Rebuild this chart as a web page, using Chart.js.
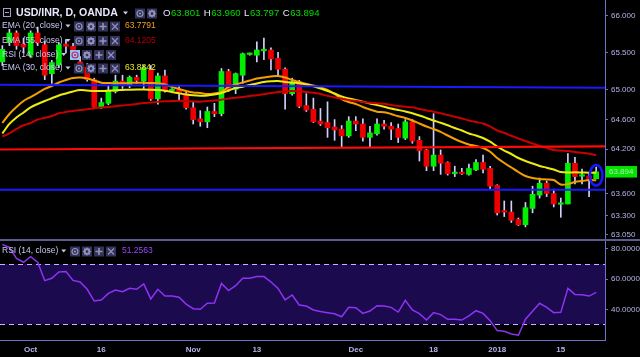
<!DOCTYPE html>
<html><head><meta charset="utf-8">
<script src="https://cdn.jsdelivr.net/npm/chart.js@4.4.0/dist/chart.umd.min.js"></script>
<style>
html,body{margin:0;padding:0;background:#000;width:640px;height:357px;overflow:hidden}
canvas{position:absolute;left:0}
#p{top:0}
#r{top:241px}
</style></head><body>
<canvas id="p" width="640" height="241"></canvas>
<canvas id="r" width="640" height="116"></canvas>
<script>
// ---- data (USD/INR daily, OANDA) ----
const opens = [65.38,65.64,65.77,65.62,65.47,65.77,65.61,65.22,65.34,65.62,
65.59,65.38,65.31,65.14,64.77,64.82,64.98,65.12,65.06,65.17,
65.12,65.27,64.88,65.19,64.99,65.00,64.95,64.76,64.61,64.57,
64.71,64.68,65.25,65.01,65.20,65.48,65.47,65.53,65.54,65.43,
65.28,64.95,65.11,64.79,64.74,64.58,64.56,64.50,64.47,64.38,
64.58,64.54,64.36,64.41,64.54,64.51,64.48,64.35,64.57,64.32,
64.19,63.97,64.12,64.02,63.87,63.875,63.86,63.92,64.02,63.94,
63.71,63.355,63.35,63.25,63.18,63.40,63.58,63.74,63.60,63.455,
63.46,64.01,63.835,63.84,63.801];
const highs = [65.60,65.82,65.80,65.70,65.80,65.85,65.66,65.40,65.64,65.68,
65.63,65.45,65.36,65.16,64.89,65.06,65.20,65.20,65.19,65.20,
65.33,65.33,65.23,65.27,65.02,65.05,64.97,64.84,64.72,64.77,
64.82,65.29,65.28,65.23,65.50,65.50,65.65,65.70,65.57,65.51,
65.30,65.16,65.13,64.95,64.89,64.75,64.84,64.60,64.52,64.64,
64.64,64.61,64.51,64.61,64.59,64.56,64.54,64.60,64.60,64.37,
64.20,64.68,64.19,64.03,63.97,63.94,64.00,64.06,64.12,63.97,
63.72,63.50,63.50,63.27,63.48,63.70,63.81,63.77,63.66,63.54,
64.14,64.09,63.93,63.87,63.960];
const lows = [65.33,65.60,65.55,65.50,65.44,65.60,65.14,65.09,65.30,65.50,
65.45,65.30,65.12,64.75,64.75,64.80,64.96,65.02,65.03,65.09,
65.02,64.86,64.81,64.97,64.97,64.87,64.74,64.54,64.51,64.49,
64.64,64.65,64.98,64.95,65.09,65.47,65.38,65.41,65.27,65.20,
64.74,64.93,64.76,64.71,64.56,64.52,64.36,64.32,64.23,64.36,
64.45,64.31,64.23,64.39,64.47,64.33,64.29,64.33,64.28,64.04,
63.91,63.91,63.86,63.85,63.83,63.86,63.85,63.91,63.88,63.66,
63.31,63.29,63.21,63.17,63.15,63.34,63.54,63.56,63.42,63.28,
63.46,63.73,63.73,63.56,63.797];
const closes = [65.55,65.77,65.60,65.58,65.77,65.64,65.20,65.37,65.61,65.59,
65.50,65.34,65.14,64.77,64.83,65.00,65.12,65.07,65.17,65.13,
65.30,64.88,65.19,64.99,65.00,64.95,64.76,64.60,64.57,64.71,
64.68,65.25,65.01,65.22,65.49,65.49,65.54,65.54,65.42,65.28,
64.95,65.11,64.78,64.73,64.57,64.54,64.49,64.46,64.38,64.58,
64.54,64.36,64.42,64.54,64.51,64.47,64.36,64.57,64.31,64.18,
63.97,64.12,64.01,63.87,63.875,63.87,63.94,64.02,63.93,63.70,
63.34,63.35,63.24,63.18,63.41,63.59,63.74,63.60,63.46,63.46,
64.01,63.83,63.84,63.80,63.894];
const ema20 = [64.554,64.676,64.770,64.851,64.905,64.959,65.014,65.054,65.101,65.135,
65.162,65.169,65.155,65.128,65.099,65.095,65.092,65.092,65.095,65.099,
65.097,65.095,65.091,65.074,65.041,65.014,64.986,64.966,64.959,64.946,
64.953,64.973,65.041,65.074,65.101,65.128,65.155,65.169,65.182,65.189,
65.169,65.135,65.108,65.081,65.061,65.034,65.000,64.946,64.878,64.838,
64.811,64.770,64.736,64.707,64.700,64.676,64.645,64.622,64.588,64.547,
64.507,64.473,64.435,64.385,64.338,64.297,64.264,64.243,64.216,64.166,
64.081,64.014,63.953,63.892,63.838,63.811,63.797,63.791,63.784,63.723,
63.730,63.757,63.770,63.784,63.7791];
const ema30 = [64.412,64.541,64.628,64.696,64.764,64.811,64.851,64.888,64.926,64.953,
64.980,65.000,64.993,64.986,64.986,64.989,64.996,65.000,65.004,65.007,
65.007,65.004,65.000,64.991,64.973,64.955,64.939,64.928,64.923,64.926,
64.939,64.959,64.993,65.027,65.045,65.068,65.088,65.108,65.118,65.122,
65.108,65.099,65.091,65.074,65.050,65.020,64.986,64.953,64.912,64.885,
64.865,64.841,64.818,64.797,64.774,64.750,64.730,64.709,64.685,64.655,
64.622,64.588,64.557,64.523,64.486,64.453,64.412,64.385,64.351,64.301,
64.236,64.182,64.135,64.081,64.041,64.007,63.973,63.950,63.926,63.892,
63.885,63.888,63.885,63.882,63.8842];
const ema55 = [64.372,64.415,64.473,64.523,64.554,64.601,64.624,64.649,64.685,64.703,
64.716,64.730,64.739,64.753,64.765,64.770,64.780,64.791,64.800,64.811,
64.824,64.831,64.841,64.847,64.851,64.854,64.851,64.846,64.842,64.851,
64.858,64.869,64.885,64.895,64.905,64.919,64.930,64.942,64.959,64.973,
64.981,64.986,64.982,64.973,64.962,64.946,64.922,64.899,64.881,64.865,
64.854,64.838,64.827,64.820,64.815,64.797,64.784,64.774,64.766,64.743,
64.723,64.707,64.685,64.662,64.638,64.615,64.588,64.568,64.547,64.507,
64.453,64.419,64.381,64.345,64.311,64.277,64.243,64.216,64.189,64.182,
64.176,64.162,64.151,64.138,64.1205];
const rsi14 = [83.0,81.1,73.8,71.2,74.9,71.2,59.0,60.6,64.8,65.0,
59.2,58.1,53.3,45.5,46.2,50.6,52.8,51.7,53.9,53.3,
56.8,46.9,53.3,48.8,48.8,48.0,43.5,40.4,40.0,44.0,
44.2,57.2,52.4,55.7,60.6,60.6,61.7,61.7,58.1,53.9,
46.2,49.5,42.9,42.2,39.6,38.5,37.8,37.1,35.1,41.3,
41.1,37.3,38.9,42.4,42.2,41.3,38.2,46.0,39.6,37.1,
32.9,37.8,36.5,33.4,33.4,32.9,35.6,39.1,37.3,32.5,
25.9,25.4,23.6,22.8,33.4,38.7,44.0,41.3,37.8,38.0,
53.9,49.9,49.7,48.8,51.2563];
const priceTicks = [66.0, 65.5, 65.0, 64.6, 64.2, 63.6, 63.3, 63.05];
const rsiTicks = [80, 60, 40];
const rsiBands = [70, 30];
const dateLabels = ['Oct','16','Nov','13','Dec','18','2018','15'];
const dateLabelBars = [4, 14, 27, 36, 50, 61, 70, 79];
const upperBlue = [65.07, 65.03];   // drawn trend line (left, right)
const redLevel = [64.196, 64.239];
const lowerBlue = [63.653, 63.653];

// ---- view settings ----
const X_MIN = -0.33, X_MAX = 85.25;
const P_MIN = 62.973, P_MAX = 66.216;
const R_MIN = 19.2, R_MAX = 85.3;
const FONT = '"Liberation Sans", Arial, sans-serif';
const AXIS = '#7070c4', TICK = '#b4b4ea', TXT = '#c8c8f4';
const UP = '#00ee00', DOWN = '#ee0000', WICK = '#d0d0ff';
const N = closes.length, LAST = N - 1;

function tri(ctx, x, y, c) {
  ctx.fillStyle = c; ctx.beginPath();
  ctx.moveTo(x, y - 1.5); ctx.lineTo(x + 5, y - 1.5); ctx.lineTo(x + 2.5, y + 1.5); ctx.closePath(); ctx.fill();
}
function icons(ctx, x, y, kinds, hl) {
  kinds.forEach((k, j) => {
    const bx = x + j * 12, by = y - 4.5;
    ctx.fillStyle = (hl && j === 0) ? '#8cc6f2' : '#33335a';
    ctx.fillRect(bx, by, 10, 10);
    const cx = bx + 5, cy = by + 5;
    ctx.strokeStyle = (hl && j === 0) ? '#d0206a' : '#9292bc';
    ctx.fillStyle = ctx.strokeStyle;
    ctx.lineWidth = 1.2;
    ctx.beginPath();
    if (k === 'eye') { ctx.arc(cx, cy, 3, 0, Math.PI * 2); ctx.stroke(); ctx.beginPath(); ctx.arc(cx, cy, 1.1, 0, Math.PI * 2); ctx.fill(); }
    else if (k === 'gear') { ctx.lineWidth = 1.8; ctx.arc(cx, cy, 2.4, 0, Math.PI * 2); ctx.stroke();
      ctx.lineWidth = 1.2; for (let a = 0; a < 8; a++) { const t = a * Math.PI / 4; ctx.moveTo(cx + Math.cos(t) * 2.6, cy + Math.sin(t) * 2.6); ctx.lineTo(cx + Math.cos(t) * 4, cy + Math.sin(t) * 4); } ctx.stroke(); }
    else if (k === 'plus') { ctx.lineWidth = 1.6; ctx.moveTo(cx - 3.5, cy); ctx.lineTo(cx + 3.5, cy); ctx.moveTo(cx, cy - 3.5); ctx.lineTo(cx, cy + 3.5); ctx.stroke(); }
    else { ctx.moveTo(cx - 3, cy - 3); ctx.lineTo(cx + 3, cy + 3); ctx.moveTo(cx + 3, cy - 3); ctx.lineTo(cx - 3, cy + 3); ctx.stroke(); }
  });
}
const ALL4 = ['eye', 'gear', 'plus', 'x'];

const pricePlugin = {
  id: 'pricePlugin',
  afterDraw(chart) {
    const ctx = chart.ctx, xs = chart.scales.x, ys = chart.scales.y;
    ctx.save();
    // blue ellipse around the last candle
    const ex = xs.getPixelForValue(LAST), ey = ys.getPixelForValue((opens[LAST] + closes[LAST]) / 2);
    ctx.strokeStyle = '#1818ff'; ctx.lineWidth = 2.5;
    ctx.beginPath(); ctx.ellipse(ex, ey, 6.3, 10.3, 0, 0, Math.PI * 2); ctx.stroke();
    // last price box
    const ly = ys.getPixelForValue(closes[LAST]);
    ctx.fillStyle = '#00e400'; ctx.fillRect(606, ly - 5.8, 31, 11.5);
    ctx.font = '8px ' + FONT; ctx.textBaseline = 'middle'; ctx.textAlign = 'left';
    ctx.fillStyle = '#b4e8b4'; ctx.fillText(closes[LAST].toFixed(3), 609, ly + 0.3);
    // panel separator
    ctx.fillStyle = '#5c5c90'; ctx.fillRect(0, 239, 640, 2);
    // title row
    ctx.strokeStyle = '#a0a0d0'; ctx.lineWidth = 1;
    ctx.strokeRect(3.5, 8.5, 7, 8); ctx.beginPath(); ctx.moveTo(5, 12.5); ctx.lineTo(9, 12.5); ctx.stroke();
    ctx.font = 'bold 10.6px ' + FONT; ctx.fillStyle = '#e8e8ff';
    ctx.fillText('USD/INR, D, OANDA', 16, 13);
    tri(ctx, 123, 13, '#d0d0f0');
    icons(ctx, 135, 13, ['eye', 'gear'], false);
    let x = 163;
    const ohlc = [['O', opens[LAST]], ['H', highs[LAST]], ['L', lows[LAST]], ['C', closes[LAST]]];
    ctx.font = '9.6px ' + FONT;
    ohlc.forEach(([k, v]) => {
      ctx.fillStyle = '#e8e8ff'; ctx.fillText(k, x, 13); x += ctx.measureText(k).width + 0.5;
      const s = v.toFixed(3); ctx.fillStyle = '#00dd00'; ctx.fillText(s, x, 13); x += ctx.measureText(s).width + 3.5;
    });
    // indicator legends
    const rows = [
      ['EMA (20, close)', 26, ema20[LAST].toFixed(4), '#f0a020', false],
      ['EMA (55, close)', 40.5, ema55[LAST].toFixed(4), '#b00000', false],
      ['RSI (14, close)', 54.5, null, null, true],
      ['EMA (30, close)', 68, ema30[LAST].toFixed(4), '#eaea20', false]
    ];
    rows.forEach(([t, y, v, c, hl]) => {
      ctx.font = '8.5px ' + FONT; ctx.fillStyle = TXT;
      ctx.fillText(t, 2, y);
      const w = ctx.measureText(t).width;
      tri(ctx, w + 5, y, TXT);
      icons(ctx, hl ? 70 : 74, y, ALL4, hl);
      if (v) { ctx.font = '8.5px ' + FONT; ctx.fillStyle = c; ctx.fillText(v, 125, y); }
    });
    ctx.restore();
  }
};

const rsiPlugin = {
  id: 'rsiPlugin',
  beforeDatasetsDraw(chart) {
    const ctx = chart.ctx, a = chart.chartArea, ys = chart.scales.y;
    const y1 = ys.getPixelForValue(rsiBands[0]), y2 = ys.getPixelForValue(rsiBands[1]);
    ctx.save();
    ctx.fillStyle = '#1c0a4e'; ctx.fillRect(a.left, y1, a.right - a.left, y2 - y1);
    ctx.strokeStyle = '#c4b4ff'; ctx.lineWidth = 1; ctx.setLineDash([5, 4]);
    [y1, y2].forEach(y => { ctx.beginPath(); ctx.moveTo(a.left, Math.round(y) + 0.5); ctx.lineTo(a.right, Math.round(y) + 0.5); ctx.stroke(); });
    ctx.restore();
  },
  afterDraw(chart) {
    const ctx = chart.ctx;
    ctx.save();
    ctx.textBaseline = 'middle'; ctx.textAlign = 'left';
    ctx.font = '8.5px ' + FONT; ctx.fillStyle = TXT;
    const t = 'RSI (14, close)';
    ctx.fillText(t, 2, 10);
    tri(ctx, ctx.measureText(t).width + 5, 10, TXT);
    icons(ctx, 70, 10, ALL4, false);
    ctx.fillStyle = '#9a48ff'; ctx.fillText(rsi14[LAST].toFixed(4), 122, 10);
    ctx.restore();
  }
};

const yAxisCommon = (min, max, ticksArr, dec) => ({
  type: 'linear', position: 'right', min, max,
  afterBuildTicks: s => { s.ticks = ticksArr.map(v => ({ value: v })); },
  afterFit: s => { s.width = 35; s.paddingTop = 0; s.paddingBottom = 0; },
  grid: { display: true, drawOnChartArea: false, drawTicks: true, tickLength: 3, color: AXIS },
  border: { display: true, color: AXIS, width: 1 },
  ticks: { color: TICK, font: { family: FONT, size: 8 }, padding: 3, autoSkip: false, callback: v => Number(v).toFixed(dec) }
});

const bars = closes.map((_, i) => i);

new Chart(document.getElementById('p'), {
  type: 'bar',
  data: {
    datasets: [
      { type: 'line', data: [{ x: X_MIN, y: upperBlue[0] }, { x: X_MAX, y: upperBlue[1] }], borderColor: '#1a1aff', borderWidth: 2, pointRadius: 0, order: 0 },
      { type: 'line', data: [{ x: X_MIN, y: redLevel[0] }, { x: X_MAX, y: redLevel[1] }], borderColor: '#ff0a0a', borderWidth: 2.2, pointRadius: 0, order: 0 },
      { type: 'line', data: [{ x: X_MIN, y: lowerBlue[0] }, { x: X_MAX, y: lowerBlue[1] }], borderColor: '#1a1aff', borderWidth: 2, pointRadius: 0, order: 0 },
      { type: 'line', data: bars.map(i => ({ x: i, y: ema55[i] })), borderColor: '#c80000', borderWidth: 2, pointRadius: 0, tension: 0.3, order: 1 },
      { type: 'line', data: bars.map(i => ({ x: i, y: ema30[i] })), borderColor: '#ecec10', borderWidth: 2, pointRadius: 0, tension: 0.3, order: 1 },
      { type: 'line', data: bars.map(i => ({ x: i, y: ema20[i] })), borderColor: '#f2a000', borderWidth: 2, pointRadius: 0, tension: 0.3, order: 1 },
      { type: 'bar', data: bars.map(i => ({ x: i, y: [opens[i], closes[i]] })), barThickness: 5, minBarLength: 1.5, grouped: false,
        backgroundColor: c => closes[c.dataIndex] >= opens[c.dataIndex] ? UP : DOWN, borderWidth: 0, order: 2 },
      { type: 'bar', data: bars.map(i => ({ x: i, y: [lows[i], highs[i]] })), barThickness: 1, grouped: false,
        backgroundColor: WICK, borderWidth: 0, order: 3 }
    ]
  },
  options: {
    responsive: false, animation: false, devicePixelRatio: 1,
    layout: { padding: { left: 0, right: 0, top: 0, bottom: 1 } },
    plugins: { legend: { display: false }, tooltip: { enabled: false } },
    scales: {
      x: { type: 'linear', min: X_MIN, max: X_MAX, offset: false, display: false },
      y: yAxisCommon(P_MIN, P_MAX, priceTicks, 3)
    }
  },
  plugins: [pricePlugin]
});

new Chart(document.getElementById('r'), {
  type: 'line',
  data: { datasets: [{ data: bars.map(i => ({ x: i, y: rsi14[i] })), borderColor: '#8e32f5', borderWidth: 1.5, pointRadius: 0, tension: 0, fill: false }] },
  options: {
    responsive: false, animation: false, devicePixelRatio: 1,
    layout: { padding: 0 },
    plugins: { legend: { display: false }, tooltip: { enabled: false } },
    scales: {
      x: {
        type: 'linear', min: X_MIN, max: X_MAX, position: 'bottom', offset: false,
        afterBuildTicks: s => { s.ticks = dateLabelBars.map(v => ({ value: v })); },
        afterFit: s => { s.height = 16.3; s.paddingLeft = 0; s.paddingRight = 0; },
        grid: { display: true, drawOnChartArea: false, drawTicks: false },
        border: { display: true, color: AXIS, width: 1 },
        ticks: { color: TICK, font: { family: FONT, size: 8, weight: 'bold' }, padding: 4, maxRotation: 0, autoSkip: false,
          callback: v => dateLabels[dateLabelBars.indexOf(v)] }
      },
      y: yAxisCommon(R_MIN, R_MAX, rsiTicks, 4)
    }
  },
  plugins: [rsiPlugin]
});
</script>
</body></html>
